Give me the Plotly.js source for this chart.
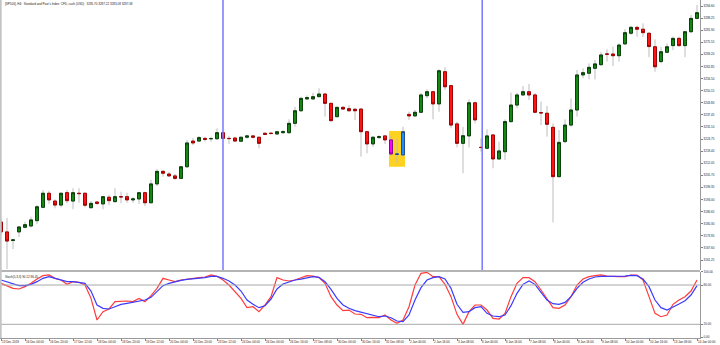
<!DOCTYPE html>
<html><head><meta charset="utf-8">
<script src="https://cdn.plot.ly/plotly-3.0.1.min.js"></script>
<style>html,body{margin:0;padding:0;background:#fff;}#chart{width:720px;height:345px;}</style>
</head><body><div id="chart"></div>
<script>
const openP = [3181.2,3176.0,3171.5,3176.0,3178.4,3179.1,3181.9,3188.9,3196.3,3192.2,
3190.1,3196.6,3192.2,3196.3,3196.3,3188.7,3191.7,3190.7,3194.2,3191.9,
3194.5,3194.5,3192.8,3193.3,3196.6,3191.3,3201.2,3207.8,3206.4,3205.4,
3204.1,3210.2,3223.7,3223.7,3225.1,3224.9,3224.9,3228.1,3225.1,3225.3,
3223.6,3225.7,3226.4,3225.7,3227.8,3227.8,3227.4,3228.1,3228.1,3233.0,
3239.6,3245.8,3245.8,3247.0,3248.4,3243.5,3236.5,3241.4,3240.7,3240.4,
3240.5,3228.6,3222.2,3225.5,3226.4,3224.3,3216.7,3216.4,3237.7,3236.9,
3238.8,3247.5,3249.6,3243.2,3260.1,3252.8,3232.7,3222.5,3226.4,3243.8,
3220.4,3219.9,3226.9,3214.3,3218.1,3233.9,3242.6,3247.9,3249.6,3247.9,
3238.6,3238.3,3230.9,3205.0,3223.4,3232.1,3240.0,3258.4,3259.3,3261.9,
3263.8,3269.4,3269.4,3268.5,3274.7,3280.3,3283.4,3282.4,3280.3,3273.2,
3265.4,3270.3,3273.8,3277.6,3273.8,3281.1,3288.1];
const highP = [3182.8,3183.3,3172.3,3179.1,3181.4,3184.0,3190.1,3198.0,3197.6,3193.1,
3196.6,3198.0,3198.9,3198.9,3196.6,3192.2,3192.2,3194.9,3195.4,3198.9,
3197.1,3196.6,3194.2,3197.1,3197.1,3203.3,3208.9,3208.5,3207.5,3206.4,
3210.6,3224.3,3225.3,3226.4,3226.0,3226.0,3230.4,3229.1,3226.4,3226.0,
3226.0,3226.9,3226.9,3226.0,3228.1,3228.1,3229.1,3229.5,3235.1,3241.7,
3247.0,3247.7,3249.1,3251.4,3248.8,3243.8,3241.7,3242.1,3242.6,3240.9,
3240.9,3229.1,3226.4,3226.7,3226.7,3226.4,3225.1,3231.2,3239.1,3240.0,
3248.8,3250.9,3250.1,3261.4,3262.4,3253.1,3233.9,3231.2,3245.6,3244.4,
3225.1,3229.9,3227.4,3223.4,3235.1,3249.1,3249.1,3252.6,3253.7,3248.9,
3244.4,3242.1,3233.0,3229.5,3235.1,3246.1,3261.0,3261.9,3264.5,3266.3,
3270.5,3271.9,3273.2,3275.0,3282.4,3284.1,3284.1,3285.5,3280.6,3277.1,
3273.2,3275.0,3278.5,3278.5,3281.6,3289.9,3295.1];
const lowP = [3174.4,3156.5,3167.0,3173.3,3177.9,3178.4,3180.2,3188.4,3190.7,3188.4,
3188.9,3191.0,3187.9,3191.3,3188.9,3188.4,3190.1,3187.9,3190.1,3191.3,
3191.0,3191.3,3191.3,3190.7,3189.6,3191.0,3200.1,3205.0,3204.8,3203.3,
3203.9,3209.6,3221.6,3223.2,3223.4,3223.4,3224.3,3224.3,3222.2,3223.2,
3223.2,3224.9,3225.1,3219.9,3226.9,3227.0,3226.9,3227.4,3227.4,3231.2,
3239.1,3245.3,3245.3,3246.7,3236.5,3233.9,3236.2,3240.0,3239.1,3234.8,
3215.5,3217.3,3220.7,3224.9,3222.2,3215.9,3212.0,3215.5,3234.8,3236.3,
3238.3,3246.1,3235.1,3239.1,3250.5,3230.4,3220.4,3206.8,3220.4,3233.0,
3218.1,3219.4,3209.4,3213.8,3213.8,3233.3,3240.9,3247.4,3245.3,3238.3,
3232.1,3226.0,3181.0,3204.7,3222.5,3231.2,3236.5,3256.6,3256.1,3256.1,
3263.1,3265.4,3263.1,3265.4,3274.1,3279.4,3278.5,3278.2,3267.7,3260.1,
3264.5,3269.8,3271.5,3273.2,3267.7,3280.3,3287.6];
const closeP = [3176.0,3171.2,3171.8,3178.6,3179.8,3182.3,3189.2,3196.3,3192.8,3190.1,
3196.3,3192.4,3196.6,3196.1,3190.0,3191.0,3191.0,3194.5,3192.4,3194.5,
3194.4,3192.8,3193.3,3196.6,3191.3,3201.2,3207.8,3206.8,3205.4,3204.1,
3210.2,3222.7,3222.7,3225.5,3224.6,3225.0,3228.1,3225.1,3225.0,3223.7,
3225.7,3226.4,3225.7,3222.5,3227.2,3227.7,3228.6,3228.6,3233.0,3239.6,
3246.1,3246.5,3247.0,3248.4,3243.5,3234.4,3241.4,3240.5,3239.6,3239.6,
3228.6,3222.2,3225.7,3226.0,3224.3,3216.9,3216.9,3228.6,3236.9,3238.8,
3247.9,3249.6,3243.2,3260.6,3252.2,3232.1,3222.5,3226.5,3243.8,3234.8,
3220.3,3226.4,3214.3,3218.5,3233.9,3242.6,3247.9,3249.6,3247.9,3238.8,
3238.5,3232.5,3205.0,3223.0,3232.1,3240.0,3258.4,3259.6,3262.4,3264.2,
3268.9,3269.3,3268.5,3274.1,3280.6,3283.4,3282.4,3280.6,3273.3,3262.7,
3270.6,3273.2,3277.6,3273.8,3281.1,3288.1,3291.1];
const stochMain = [82.5,79.0,74.9,73.9,77.5,82.5,89.1,94.2,95.3,90.2,
87.6,81.0,85.1,84.1,80.0,59.6,26.6,39.3,43.4,54.6,
55.6,55.6,54.6,59.6,54.6,63.7,74.9,90.2,87.6,85.1,
87.6,89.1,90.2,91.2,92.2,95.3,93.2,87.6,80.0,69.8,
59.6,45.4,46.9,39.3,49.5,62.2,91.2,87.6,86.1,87.6,
91.2,94.2,93.7,91.2,82.5,62.2,49.5,40.8,41.8,35.7,
35.2,30.1,30.6,30.1,34.2,26.6,21.5,26.6,46.9,80.0,
97.8,99.3,92.7,92.7,81.0,62.2,35.2,19.9,39.3,49.5,
49.5,41.8,29.1,28.1,36.7,62.2,82.5,91.2,91.2,85.1,
72.4,59.6,45.4,44.4,49.5,62.2,80.0,89.1,92.7,94.2,
95.3,93.7,92.7,92.7,92.7,95.3,95.3,87.6,62.2,36.7,
31.6,34.2,50.5,57.1,62.2,70.8,87.6];
const stochSignal = [87.6,85.1,81.5,79.0,79.0,81.0,85.1,90.2,92.7,90.2,
88.1,85.1,85.1,84.1,82.5,70.8,49.5,44.4,43.4,46.9,
50.5,52.0,53.5,55.6,57.1,61.2,69.8,79.0,82.5,85.1,
87.1,88.6,89.1,90.2,91.2,93.2,93.2,90.2,86.1,80.0,
70.8,57.1,50.5,45.4,48.4,58.6,73.9,81.5,85.1,87.6,
89.1,91.2,92.7,91.7,85.1,73.4,59.6,49.5,44.4,40.8,
38.3,36.2,33.2,31.6,32.7,30.1,25.0,24.0,34.2,57.1,
75.9,87.6,91.2,92.7,89.1,74.9,50.5,38.3,39.3,45.4,
46.9,36.7,32.7,31.6,34.2,48.4,67.3,81.0,86.1,81.0,
68.8,57.1,51.5,50.5,53.5,62.2,74.9,84.1,89.1,92.2,
93.2,93.2,92.7,92.7,93.7,94.8,94.2,89.1,77.5,57.1,
45.4,41.8,45.9,51.0,56.1,64.7,79.0];
const xTickLabels = ["13 Dec 2019","16 Dec 04:00","16 Dec 20:00","17 Dec 12:00","18 Dec 04:00","18 Dec 20:00","19 Dec 12:00","20 Dec 04:00","20 Dec 20:00","23 Dec 12:00","24 Dec 04:00","26 Dec 00:00","26 Dec 16:00","27 Dec 08:00","30 Dec 00:00","30 Dec 16:00","31 Dec 08:00","2 Jan 00:00","2 Jan 16:00","3 Jan 08:00","6 Jan 00:00","6 Jan 16:00","7 Jan 08:00","8 Jan 00:00","8 Jan 16:00","9 Jan 08:00","10 Jan 00:00","10 Jan 16:00","13 Jan 08:00","14 Jan 00:00"];
const priceTicks = [3294.60,3288.25,3281.90,3275.55,3269.20,3262.85,3256.50,3250.15,3243.80,3237.45,3231.10,3224.75,3218.40,3212.05,3205.70,3199.35,3193.00,3186.65,3180.30,3173.95,3167.60,3161.25];
const stochTicks = [0,20,80,100];
const stochLevels = [20,80];
const highlightBars = [65,66,67];
const vlineBars = [37,80.2];
const titleText = "[SP500], H4:  Standard and Poor's Index: CFD, cash (USD):  3285.70 3287.22 3283.08 3287.08";
const stochText = "Stoch(5,3,3) 90.12 86.45";

const idx = openP.map((_, i) => i);
const normal = idx.filter(i => !highlightBars.includes(i));
const pick = (arr, ids) => ids.map(i => arr[i]);
const bodyHigh = idx.map(i => Math.max(openP[i], closeP[i]));
const bodyLow = idx.map(i => Math.min(openP[i], closeP[i]));
const barsPerTick = 4;
const tickBars = xTickLabels.map((_, k) => k * barsPerTick);

const wickColor = '#bdbdbd';
const traces = [
  {type:'candlestick', x:idx, open:openP, high:highP, low:lowP, close:closeP,
   increasing:{line:{color:wickColor,width:1}, fillcolor:wickColor},
   decreasing:{line:{color:wickColor,width:1}, fillcolor:wickColor},
   hoverinfo:'skip'},
  {type:'candlestick', x:normal, open:pick(openP,normal), high:pick(bodyHigh,normal), low:pick(bodyLow,normal), close:pick(closeP,normal),
   increasing:{line:{color:'#0a3f0a',width:1}, fillcolor:'#138a13'},
   decreasing:{line:{color:'#a00000',width:1}, fillcolor:'#ff1414'},
   hoverinfo:'skip'},
  {type:'candlestick', x:highlightBars, open:pick(openP,highlightBars), high:pick(bodyHigh,highlightBars), low:pick(bodyLow,highlightBars), close:pick(closeP,highlightBars),
   increasing:{line:{color:'#1d4f8f',width:1}, fillcolor:'#1e90ff'},
   decreasing:{line:{color:'#8a008a',width:1}, fillcolor:'#ff00ff'},
   hoverinfo:'skip'},
  {type:'scatter', mode:'lines', x:idx, y:stochMain, xaxis:'x', yaxis:'y2', line:{color:'#ff3b3b', width:1.2}, hoverinfo:'skip'},
  {type:'scatter', mode:'lines', x:idx, y:stochSignal, xaxis:'x', yaxis:'y2', line:{color:'#3b3bff', width:1.2}, hoverinfo:'skip'}
];

const plotH = 338;
const mainBottom = (plotH - 270) / plotH;
const stochTop = (plotH - 271.9) / plotH;
const sepY = (plotH - 271) / plotH;

const shapes = [
  {type:'rect', xref:'x', yref:'y', x0:64.67, x1:67.33, y0:3210.2, y1:3229.0, fillcolor:'#ffd21f', line:{width:0}, layer:'below'}
];
vlineBars.forEach(b => shapes.push({type:'line', xref:'x', yref:'paper', x0:b, x1:b, y0:mainBottom, y1:1, line:{color:'#7777ff', width:1.5}}));
shapes.push({type:'line', xref:'paper', yref:'paper', x0:0, x1:1, y0:sepY, y1:sepY, line:{color:'#b4b4b4', width:2}});
stochLevels.forEach(v => shapes.push({type:'line', xref:'paper', yref:'y2', x0:0, x1:1, y0:v, y1:v, line:{color:'#a8a8a8', width:1}}));
shapes.push({type:'line', xref:'paper', yref:'paper', x0:0.001, x1:0.001, y0:0, y1:1, line:{color:'#c4c4c4', width:2}});

const axisCommon = {showgrid:false, zeroline:false, showline:true, linecolor:'#9a9a9a', linewidth:1,
  ticks:'outside', ticklen:2, tickwidth:1, tickcolor:'#808080', tickfont:{size:3, color:'#222'}, fixedrange:true};

const layout = {
  width:720, height:345, margin:{l:0, r:20, t:0, b:7},
  paper_bgcolor:'#ffffff', plot_bgcolor:'#ffffff',
  showlegend:false, hovermode:false, boxgap:0.3,
  font:{family:'Liberation Sans, Arial, sans-serif', size:3, color:'#222'},
  xaxis:Object.assign({}, axisCommon, {range:[-0.1667,116.5], anchor:'y2', tickmode:'array', tickvals:tickBars, ticktext:xTickLabels,
    tickangle:0, ticklabelposition:'outside right', ticklabeloverflow:'allow', rangeslider:{visible:false}}),
  yaxis:Object.assign({}, axisCommon, {domain:[mainBottom,1], range:[3156.0,3297.75], side:'right', anchor:'x', tickmode:'array', tickvals:priceTicks, tickformat:'.2f'}),
  yaxis2:Object.assign({}, axisCommon, {domain:[0,stochTop], range:[-0.9,100], side:'right', anchor:'x', tickmode:'array', tickvals:stochTicks, tickformat:'.2f'}),
  shapes:shapes,
  annotations:[
    {xref:'paper', yref:'paper', x:0.004, y:(plotH-4)/plotH, xanchor:'left', yanchor:'middle', text:titleText, showarrow:false, font:{size:3, color:'#222'}},
    {xref:'paper', yref:'paper', x:0.004, y:(plotH-277)/plotH, xanchor:'left', yanchor:'middle', text:stochText, showarrow:false, font:{size:3, color:'#222'}}
  ]
};

Plotly.newPlot('chart', traces, layout, {staticPlot:true, displayModeBar:false});
</script>
</body></html>
